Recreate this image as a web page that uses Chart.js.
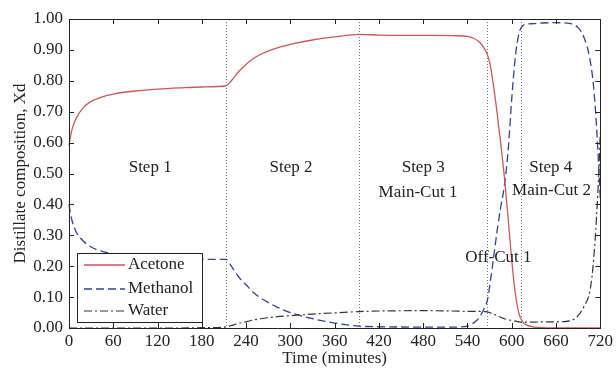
<!DOCTYPE html>
<html>
<head>
<meta charset="utf-8">
<script src="https://cdn.jsdelivr.net/npm/chart.js@4.4.0/dist/chart.umd.min.js"></script>
<style>
  html, body { margin: 0; padding: 0; background: #fff; }
</style>
</head>
<body>
<canvas id="c" width="616" height="369"></canvas>
<script>
// ── Data ─────────────────────────────────────────────────────
var timeMin  = [0, 2, 5, 10, 20, 30, 45, 60, 90, 120, 150, 180, 213, 220, 230, 240, 250, 260, 280, 300, 330, 360, 393, 420, 480, 520, 540, 547, 555, 562, 567, 571, 575, 580, 585, 590, 595, 600, 605, 610, 615, 620, 630, 640, 660, 680, 690, 698, 706, 711, 715, 718, 720];
var acetone  = [0.59, 0.62, 0.65, 0.68, 0.715, 0.733, 0.748, 0.757, 0.767, 0.773, 0.777, 0.780, 0.784, 0.80, 0.83, 0.853, 0.872, 0.886, 0.905, 0.918, 0.932, 0.942, 0.950, 0.948, 0.947, 0.946, 0.944, 0.939, 0.928, 0.908, 0.885, 0.85, 0.79, 0.70, 0.60, 0.49, 0.36, 0.22, 0.11, 0.045, 0.02, 0.01, 0.003, 0.001, 0, 0, 0, 0, 0, 0, 0, 0, 0];
var methanol = [0.40, 0.37, 0.34, 0.31, 0.28, 0.262, 0.248, 0.24, 0.232, 0.227, 0.224, 0.222, 0.222, 0.20, 0.165, 0.14, 0.115, 0.097, 0.07, 0.05, 0.03, 0.016, 0.006, 0.004, 0.003, 0.003, 0.006, 0.014, 0.03, 0.06, 0.09, 0.15, 0.22, 0.31, 0.39, 0.46, 0.57, 0.74, 0.88, 0.955, 0.978, 0.983, 0.985, 0.987, 0.988, 0.985, 0.972, 0.94, 0.87, 0.78, 0.65, 0.52, 0.42];
var water    = [0, 0, 0, 0, 0, 0, 0, 0, 0, 0, 0, 0.001, 0.003, 0.008, 0.015, 0.02, 0.026, 0.03, 0.036, 0.04, 0.045, 0.049, 0.053, 0.055, 0.056, 0.055, 0.054, 0.054, 0.054, 0.054, 0.052, 0.049, 0.046, 0.04, 0.035, 0.03, 0.027, 0.024, 0.022, 0.02, 0.019, 0.019, 0.019, 0.02, 0.02, 0.024, 0.04, 0.07, 0.12, 0.22, 0.36, 0.5, 0.63];

var xTicks = [0, 60, 120, 180, 240, 300, 360, 420, 480, 540, 600, 660, 720];
var yTicks = [0, 0.1, 0.2, 0.3, 0.4, 0.5, 0.6, 0.7, 0.8, 0.9, 1.0];

var stepLines = [213, 393, 567, 612];
var noteText  = ['Step 1', 'Step 2', 'Step 3', 'Main-Cut 1', 'Step 4', 'Main-Cut 2', 'Off-Cut 1'];
var noteX     = [110, 301, 480, 473, 653, 654, 582];
var noteY     = [0.52, 0.52, 0.52, 0.44, 0.52, 0.445, 0.227];

var FONT = '"Liberation Serif", "Times New Roman", serif';
var INK = '#222';

function pts(ys) {
  return timeMin.map(function(t, i) { return { x: t, y: ys[i] }; });
}

// ── Plot frame, inward ticks, step markers, notes, legend ────
var decor = {
  id: 'decor',
  beforeDatasetsDraw: function(chart) {
    var c = chart.ctx, a = chart.chartArea, xs = chart.scales.x;
    c.save();
    c.strokeStyle = '#777';
    c.lineWidth = 1;
    c.setLineDash([1, 2]);
    stepLines.forEach(function(v) {
      var px = Math.round(xs.getPixelForValue(v)) + 0.5;
      c.beginPath(); c.moveTo(px, a.top); c.lineTo(px, a.bottom); c.stroke();
    });
    c.restore();
  },
  afterDatasetsDraw: function(chart) {
    var c = chart.ctx, a = chart.chartArea, xs = chart.scales.x, ys = chart.scales.y;
    c.save();
    c.strokeStyle = INK;
    c.lineWidth = 1;
    // ticks inside on all four sides
    var L = 5;
    c.beginPath();
    xTicks.forEach(function(v) {
      var px = Math.round(xs.getPixelForValue(v)) + 0.5;
      c.moveTo(px, a.bottom); c.lineTo(px, a.bottom - L);
      c.moveTo(px, a.top); c.lineTo(px, a.top + L);
    });
    yTicks.forEach(function(v) {
      var py = Math.round(ys.getPixelForValue(v)) + 0.5;
      c.moveTo(a.left, py); c.lineTo(a.left + L, py);
      c.moveTo(a.right, py); c.lineTo(a.right - L, py);
    });
    c.stroke();
    c.strokeRect(Math.round(a.left) + 0.5, Math.round(a.top) + 0.5,
                 Math.round(a.right - a.left), Math.round(a.bottom - a.top));

    // region notes
    c.fillStyle = INK;
    c.font = '17px ' + FONT;
    c.textAlign = 'center';
    c.textBaseline = 'middle';
    noteText.forEach(function(s, i) {
      c.fillText(s, xs.getPixelForValue(noteX[i]), ys.getPixelForValue(noteY[i]));
    });

    // legend box in the lower-left corner
    var bx = 77.5, by = 253.5, bw = 125, bh = 69;
    c.fillStyle = '#fff';
    c.fillRect(bx, by, bw, bh);
    c.strokeRect(bx, by, bw, bh);
    var rows = [265, 289, 311];
    chart.data.datasets.forEach(function(ds, i) {
      c.strokeStyle = ds.borderColor;
      c.lineWidth = ds.borderWidth;
      c.setLineDash(ds.borderDash || []);
      c.beginPath(); c.moveTo(84, rows[i]); c.lineTo(125, rows[i]); c.stroke();
      c.setLineDash([]);
      c.fillStyle = INK;
      c.textAlign = 'left';
      c.fillText(ds.label, 128, rows[i]);
    });
    c.restore();
  }
};

new Chart(document.getElementById('c'), {
  type: 'line',
  data: {
    datasets: [
      { label: 'Acetone',  data: pts(acetone),  borderColor: '#c65a5a', borderWidth: 1.3, clip: 2 },
      { label: 'Methanol', data: pts(methanol), borderColor: '#35418f', borderWidth: 1.3, borderDash: [8, 4], clip: 2 },
      { label: 'Water',    data: pts(water),    borderColor: '#333333', borderWidth: 1.2, borderDash: [8, 3, 2, 3], clip: 2 }
    ]
  },
  options: {
    responsive: false,
    animation: false,
    devicePixelRatio: 1,
    layout: { padding: { top: 19, right: 13, left: 0, bottom: 0 } },
    elements: {
      point: { radius: 0 },
      line: { cubicInterpolationMode: 'monotone', fill: false }
    },
    plugins: { legend: { display: false }, tooltip: { enabled: false } },
    scales: {
      x: {
        type: 'linear', min: 0, max: 720,
        afterBuildTicks: function(s) { s.ticks = xTicks.map(function(v) { return { value: v }; }); },
        afterFit: function(s) { s.height = 41; },
        grid: { display: false, drawTicks: false },
        border: { display: false },
        ticks: { color: INK, font: { family: FONT, size: 17 }, padding: 3, maxRotation: 0 },
        title: { display: true, text: 'Time (minutes)', color: INK, font: { family: FONT, size: 17 }, padding: { top: 0, bottom: 0 } }
      },
      y: {
        min: 0, max: 1,
        afterBuildTicks: function(s) { s.ticks = yTicks.map(function(v) { return { value: v }; }); },
        afterFit: function(s) { s.width = 69; },
        grid: { display: false, drawTicks: false },
        border: { display: false },
        ticks: { color: INK, font: { family: FONT, size: 17 }, padding: 6, callback: function(v) { return v.toFixed(2); } },
        title: { display: true, text: 'Distillate composition, Xd', color: INK, font: { family: FONT, size: 17 }, padding: { top: 10, bottom: 0 } }
      }
    }
  },
  plugins: [decor]
});
</script>
</body>
</html>
